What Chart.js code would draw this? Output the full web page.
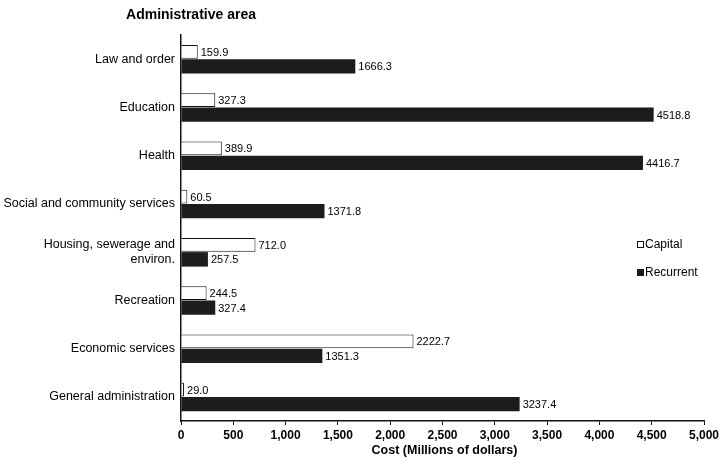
<!DOCTYPE html>
<html>
<head>
<meta charset="utf-8">
<script src="https://cdn.jsdelivr.net/npm/chart.js@4.4.0/dist/chart.umd.min.js"></script>
<style>
  html, body { margin: 0; padding: 0; background: #fff; }
  #wrap { position: relative; width: 727px; height: 463px; }
</style>
</head>
<body>
<div id="wrap"><canvas id="c" width="727" height="463"></canvas></div>
<script>
const categories = [
  'Law and order',
  'Education',
  'Health',
  'Social and community services',
  ['Housing, sewerage and', 'environ.'],
  'Recreation',
  'Economic services',
  'General administration'
];
const capitalValues   = [159.9, 327.3, 389.9, 60.5, 712.0, 244.5, 2222.7, 29.0];
const recurrentValues = [1666.3, 4518.8, 4416.7, 1371.8, 257.5, 327.4, 1351.3, 3237.4];
const seriesNames = ['Capital', 'Recurrent'];
const xTicks = [0, 500, 1000, 1500, 2000, 2500, 3000, 3500, 4000, 4500, 5000];
const chartTitle = 'Administrative area';
const xAxisTitle = 'Cost (Millions of dollars)';

const FONT = "'Liberation Sans', Arial, Helvetica, sans-serif";

const extras = {
  id: 'extras',
  afterDatasetsDraw(chart) {
    const ctx = chart.ctx;
    ctx.save();
    ctx.fillStyle = '#000';
    ctx.font = '11px ' + FONT;
    ctx.textBaseline = 'middle';
    ctx.textAlign = 'left';
    chart.data.datasets.forEach((ds, di) => {
      const meta = chart.getDatasetMeta(di);
      meta.data.forEach((el, i) => {
        const v = ds.data[i];
        ctx.fillText(v.toFixed(1), el.x + 3, el.y + 1);
      });
    });
    const area = chart.chartArea;
    // title
    ctx.font = 'bold 14px ' + FONT;
    ctx.textAlign = 'center';
    ctx.fillText(chartTitle, 191, 15);
    // x-axis title
    ctx.font = 'bold 12.5px ' + FONT;
    ctx.fillText(xAxisTitle, (area.left + area.right) / 2 + 2, 451);
    // legend
    ctx.textAlign = 'left';
    ctx.font = '12px ' + FONT;
    const lx = 637;
    const ly = [245, 273];
    ctx.lineWidth = 1;
    ctx.strokeStyle = '#111';
    ctx.fillStyle = '#fff';
    ctx.fillRect(lx + 0.5, ly[0] - 3.5, 6, 6);
    ctx.strokeRect(lx + 0.5, ly[0] - 3.5, 6, 6);
    ctx.fillStyle = '#1a1a1a';
    ctx.fillRect(lx, ly[1] - 4, 7, 7);
    ctx.fillStyle = '#000';
    ctx.fillText(seriesNames[0], lx + 8, ly[0]);
    ctx.fillText(seriesNames[1], lx + 8, ly[1]);
    ctx.restore();
  }
};

new Chart(document.getElementById('c'), {
  type: 'bar',
  data: {
    labels: categories,
    datasets: [
      {
        label: seriesNames[0],
        data: capitalValues,
        backgroundColor: '#ffffff',
        borderColor: '#111111',
        borderWidth: 1,
        barPercentage: 0.95
      },
      {
        label: seriesNames[1],
        data: recurrentValues,
        backgroundColor: '#1c1c1c',
        borderColor: '#1c1c1c',
        borderWidth: 0,
        barPercentage: 1.0
      }
    ]
  },
  options: {
    indexAxis: 'y',
    responsive: false,
    animation: false,
    devicePixelRatio: 1,
    categoryPercentage: 0.6,
    layout: { padding: { top: 35, right: 23, left: 0, bottom: 0 } },
    plugins: {
      legend: { display: false },
      title: { display: false },
      tooltip: { enabled: false }
    },
    scales: {
      x: {
        min: 0,
        max: 5000,
        afterBuildTicks(axis) { axis.ticks = xTicks.map(v => ({ value: v })); },
        afterFit(axis) { axis.height = 42; },
        border: { display: true, color: '#111', width: 1.5 },
        grid: { display: true, drawOnChartArea: false, drawTicks: true, tickLength: 4, color: '#111' },
        ticks: {
          color: '#000',
          font: { family: FONT, size: 12, weight: 'bold' },
          padding: 3,
          maxRotation: 0,
          callback: v => v.toLocaleString('en-US')
        }
      },
      y: {
        afterFit(axis) { axis.width = 181; },
        border: { display: true, color: '#111', width: 1.5 },
        grid: { display: false, drawTicks: false, tickLength: 0 },
        ticks: {
          color: '#000',
          font: { family: FONT, size: 12.5 },
          padding: 6
        }
      }
    }
  },
  plugins: [extras]
});
</script>
</body>
</html>
